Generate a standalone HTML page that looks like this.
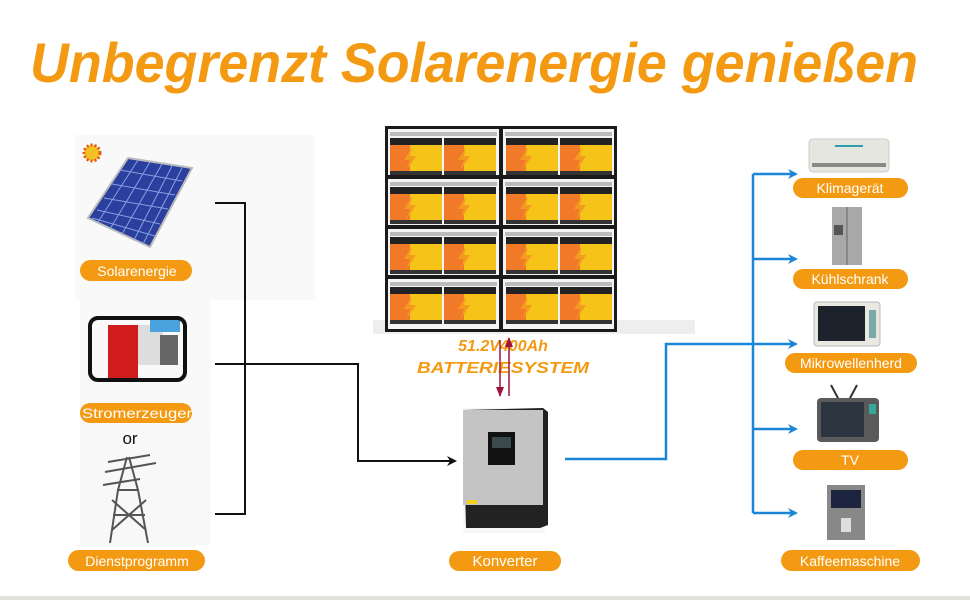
<!DOCTYPE html>
<html><head><meta charset="utf-8"><style>
html,body{margin:0;padding:0;background:#fff}
svg{display:block}
text{font-family:"Liberation Sans",sans-serif}
</style></head><body>
<svg width="970" height="600" viewBox="0 0 970 600" xmlns="http://www.w3.org/2000/svg">
<defs>
<marker id="ab" markerWidth="10" markerHeight="10" refX="8" refY="5" orient="auto" markerUnits="userSpaceOnUse"><path d="M0,0 L10,5 L0,10 L3,5 Z" fill="#1a86d8"/></marker>
<marker id="ak" markerWidth="10" markerHeight="10" refX="8" refY="5" orient="auto" markerUnits="userSpaceOnUse"><path d="M0,0 L10,5 L0,10 L3,5 Z" fill="#111"/></marker>
<marker id="ar" markerWidth="10" markerHeight="8" refX="9" refY="4" orient="auto" markerUnits="userSpaceOnUse"><path d="M0,0 L10,4 L0,8 Z" fill="#a0143c"/></marker>
<g id="bat">
<rect x="0" y="0" width="52" height="7" fill="#222"/>
<rect x="0" y="7" width="52" height="28" fill="#f6c418"/>
<rect x="0" y="7" width="20" height="28" fill="#f07a28"/>
<path d="M22,9 L14,22 L20,22 L16,33 L26,18 L20,18 Z" fill="#f49a20"/>
<rect x="0" y="33" width="52" height="4" fill="#333"/>
</g>
</defs>
<rect x="0" y="596" width="970" height="4" fill="#e0e4dc"/>
<text x="30" y="82" font-size="56" font-weight="bold" font-style="italic" fill="#f39a12" textLength="888" lengthAdjust="spacingAndGlyphs">Unbegrenzt Solarenergie genießen</text>

<rect x="75" y="135" width="240" height="165" fill="#f9f9f9"/>
<rect x="80" y="300" width="130" height="130" fill="#f9f9f9"/>
<rect x="80" y="430" width="130" height="115" fill="#f8f8f8"/>

<circle cx="92" cy="153" r="8" fill="#f2c224" stroke="#e8561c" stroke-width="3" stroke-dasharray="2 2"/>
<path d="M128,158 L192,168 L150,247 L88,218 Z" fill="#2a3f9e" stroke="#bbb" stroke-width="2"/>
<g stroke="#8aa0e0" stroke-width="1">
<path d="M120,170 L182,181 M112,184 L175,195 M104,198 L168,209 M97,210 L160,224 M92,218 L155,236"/>
<path d="M138,160 L98,222 M150,162 L110,229 M162,164 L122,234 M172,166 L134,240 M182,168 L143,244"/>
</g>
<rect x="108" y="325" width="30" height="55" fill="#d01c1c"/>
<rect x="138" y="325" width="25" height="40" fill="#ddd"/>
<rect x="150" y="318" width="30" height="14" fill="#4aa3dd"/>
<rect x="160" y="335" width="18" height="30" fill="#666"/>
<rect x="90" y="318" width="95" height="62" rx="8" fill="none" stroke="#111" stroke-width="4"/>
<text x="130" y="444" font-size="17" text-anchor="middle" fill="#111">or</text>
<g stroke="#555" stroke-width="2" fill="none">
<path d="M108,462 L150,455 M105,472 L156,463 M103,485 L140,479"/>
<path d="M127,457 L118,490 L110,543 M129,457 L138,490 L148,543 M118,490 L138,490 M113,515 L145,515 M112,500 L146,530 M146,500 L112,530"/>
</g>

<g fill="#f39a12">
<rect x="80" y="260" width="112" height="21" rx="10.5"/>
<rect x="80" y="403" width="112" height="20" rx="10"/>
<rect x="68" y="550" width="137" height="21" rx="10.5"/>
<rect x="449" y="551" width="112" height="20" rx="10"/>
<rect x="793" y="178" width="115" height="20" rx="10"/>
<rect x="793" y="269" width="115" height="20" rx="10"/>
<rect x="785" y="353" width="132" height="20" rx="10"/>
<rect x="793" y="450" width="115" height="20" rx="10"/>
<rect x="781" y="550" width="139" height="21" rx="10.5"/>
</g>
<g fill="#fff" font-size="14" text-anchor="middle">
<text x="137" y="276">Solarenergie</text>
<text x="137" y="418" textLength="110" lengthAdjust="spacingAndGlyphs">Stromerzeuger</text>
<text x="137" y="566">Dienstprogramm</text>
<text x="505" y="566" font-size="15">Konverter</text>
<text x="850" y="193">Klimagerät</text>
<text x="850" y="284">Kühlschrank</text>
<text x="851" y="368">Mikrowellenherd</text>
<text x="850" y="465">TV</text>
<text x="850" y="566">Kaffeemaschine</text>
</g>

<path d="M215,203 H245 V514 H215" fill="none" stroke="#111" stroke-width="2"/>
<path d="M215,364 H358 V461 H455" fill="none" stroke="#111" stroke-width="2" marker-end="url(#ak)"/>

<rect x="373" y="320" width="322" height="14" fill="#eeeeee"/>
<rect x="385" y="126" width="232" height="206" fill="#1a1a1a"/>
<g fill="#f4f4f4">
<rect x="388" y="129" width="111" height="46"/><rect x="503" y="129" width="111" height="46"/>
<rect x="388" y="179" width="111" height="46"/><rect x="503" y="179" width="111" height="46"/>
<rect x="388" y="229" width="111" height="46"/><rect x="503" y="229" width="111" height="46"/>
<rect x="388" y="279" width="111" height="50"/><rect x="503" y="279" width="111" height="50"/>
</g>
<g fill="#bbb">
<rect x="390" y="132" width="107" height="4"/><rect x="505" y="132" width="107" height="4"/>
<rect x="390" y="182" width="107" height="4"/><rect x="505" y="182" width="107" height="4"/>
<rect x="390" y="232" width="107" height="4"/><rect x="505" y="232" width="107" height="4"/>
<rect x="390" y="282" width="107" height="4"/><rect x="505" y="282" width="107" height="4"/>
</g>
<g>
<use href="#bat" x="390" y="138"/><use href="#bat" x="444" y="138"/><use href="#bat" x="506" y="138"/><use href="#bat" x="560" y="138"/>
<use href="#bat" x="390" y="187"/><use href="#bat" x="444" y="187"/><use href="#bat" x="506" y="187"/><use href="#bat" x="560" y="187"/>
<use href="#bat" x="390" y="237"/><use href="#bat" x="444" y="237"/><use href="#bat" x="506" y="237"/><use href="#bat" x="560" y="237"/>
<use href="#bat" x="390" y="287"/><use href="#bat" x="444" y="287"/><use href="#bat" x="506" y="287"/><use href="#bat" x="560" y="287"/>
</g>
<g fill="#f39a12" font-size="16" font-weight="bold" font-style="italic" text-anchor="middle">
<text x="503" y="351">51.2V400Ah</text>
<text x="503" y="373" textLength="172" lengthAdjust="spacingAndGlyphs">BATTERIESYSTEM</text>
</g>
<line x1="500" y1="340" x2="500" y2="396" stroke="#a0143c" stroke-width="1.5" marker-end="url(#ar)"/>
<line x1="509" y1="396" x2="509" y2="338" stroke="#a0143c" stroke-width="1.5" marker-end="url(#ar)"/>

<rect x="463" y="408" width="82" height="125" fill="#f7f7f7"/>
<path d="M463,410 L543,408 L548,412 L548,525 L540,528 L466,528 Z" fill="#222"/>
<rect x="463" y="410" width="80" height="95" fill="#c4c4c4"/>
<rect x="488" y="432" width="27" height="33" fill="#111"/>
<rect x="492" y="437" width="19" height="11" fill="#3a4a4a"/>
<rect x="467" y="500" width="10" height="4" fill="#f2d21c"/>

<g fill="none" stroke="#1a86d8" stroke-width="2.5">
<path d="M565,459 H666 V344 H753"/>
<path d="M753,174 V513"/>
<path d="M753,174 H796" marker-end="url(#ab)"/>
<path d="M753,259 H796" marker-end="url(#ab)"/>
<path d="M753,344 H796" marker-end="url(#ab)"/>
<path d="M753,429 H796" marker-end="url(#ab)"/>
<path d="M753,513 H796" marker-end="url(#ab)"/>
</g>

<rect x="809" y="139" width="80" height="33" rx="4" fill="#e6e6e0" stroke="#ccc"/>
<rect x="835" y="145" width="28" height="2" fill="#2aa0b0"/>
<rect x="812" y="163" width="74" height="4" fill="#888"/>
<rect x="832" y="207" width="30" height="58" fill="#a8a8a8"/>
<line x1="847" y1="207" x2="847" y2="265" stroke="#666"/>
<rect x="834" y="225" width="9" height="10" fill="#555"/>
<rect x="814" y="302" width="66" height="44" rx="3" fill="#e8e8e0" stroke="#bbb"/>
<rect x="818" y="306" width="47" height="35" fill="#1c232c"/>
<rect x="869" y="310" width="7" height="28" fill="#7aa"/>
<line x1="831" y1="385" x2="839" y2="400" stroke="#333" stroke-width="2"/>
<line x1="857" y1="385" x2="849" y2="400" stroke="#333" stroke-width="2"/>
<rect x="817" y="398" width="62" height="44" rx="4" fill="#5a5a5a"/>
<rect x="821" y="402" width="43" height="35" fill="#2c3440"/>
<rect x="869" y="404" width="7" height="10" fill="#3a9"/>
<rect x="827" y="485" width="38" height="55" fill="#888"/>
<rect x="831" y="490" width="30" height="18" fill="#1c2440"/>
<rect x="841" y="518" width="10" height="14" fill="#ddd"/>
</svg>
</body></html>
